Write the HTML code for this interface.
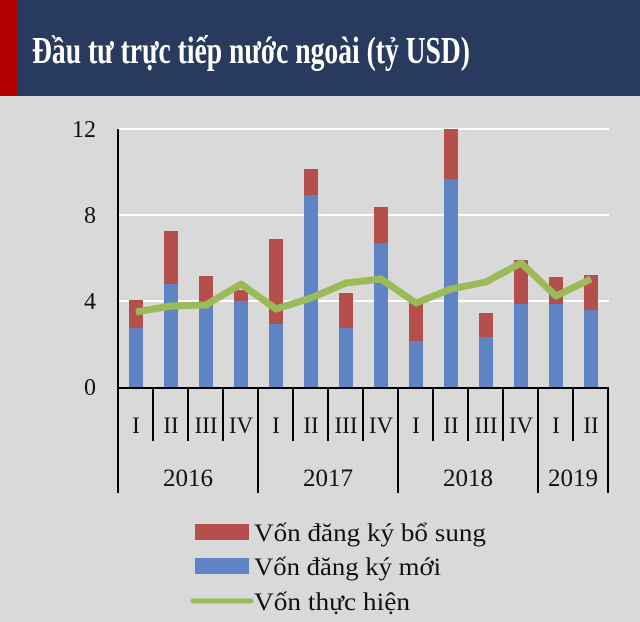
<!DOCTYPE html>
<html><head><meta charset="utf-8"><style>
html,body{margin:0;padding:0;background:#d9d9d9;}
svg{display:block}
</style></head><body>
<svg width="640" height="622" viewBox="0 0 640 622" xmlns="http://www.w3.org/2000/svg" font-family="'Liberation Serif', serif">
<rect width="640" height="622" fill="#d9d9d9"/>
<rect x="0" y="0" width="640" height="96" fill="#283a5e"/>
<rect x="0" y="0" width="17" height="96" fill="#b00000"/>
<text x="32" y="63" fill="#fff" font-size="38" font-weight="bold" textLength="438" lengthAdjust="spacingAndGlyphs">Đầu tư trực tiếp nước ngoài (tỷ USD)</text>
<g stroke="#fff" stroke-width="2">
<line x1="118" y1="129" x2="609" y2="129"/>
<line x1="118" y1="215" x2="609" y2="215"/>
<line x1="118" y1="301" x2="609" y2="301"/>
</g>
<g font-size="24" fill="#111" text-anchor="end">
<text x="96" y="137">12</text>
<text x="96" y="223">8</text>
<text x="96" y="309">4</text>
<text x="96" y="395">0</text>
</g>
<g>
<rect x="129" y="300" width="14" height="28" fill="#b54f4c"/><rect x="129" y="328" width="14" height="59" fill="#5f84c4"/>
<rect x="164" y="231" width="14" height="53" fill="#b54f4c"/><rect x="164" y="284" width="14" height="103" fill="#5f84c4"/>
<rect x="199" y="276" width="14" height="30" fill="#b54f4c"/><rect x="199" y="306" width="14" height="81" fill="#5f84c4"/>
<rect x="234" y="290" width="14" height="11" fill="#b54f4c"/><rect x="234" y="301" width="14" height="86" fill="#5f84c4"/>
<rect x="269" y="239" width="14" height="85" fill="#b54f4c"/><rect x="269" y="324" width="14" height="63" fill="#5f84c4"/>
<rect x="304" y="169" width="14" height="26" fill="#b54f4c"/><rect x="304" y="195" width="14" height="192" fill="#5f84c4"/>
<rect x="339" y="293" width="14" height="35" fill="#b54f4c"/><rect x="339" y="328" width="14" height="59" fill="#5f84c4"/>
<rect x="374" y="207" width="14" height="36" fill="#b54f4c"/><rect x="374" y="243" width="14" height="144" fill="#5f84c4"/>
<rect x="409" y="302" width="14" height="39" fill="#b54f4c"/><rect x="409" y="341" width="14" height="46" fill="#5f84c4"/>
<rect x="444" y="129" width="14" height="50" fill="#b54f4c"/><rect x="444" y="179" width="14" height="208" fill="#5f84c4"/>
<rect x="479" y="313" width="14" height="24" fill="#b54f4c"/><rect x="479" y="337" width="14" height="50" fill="#5f84c4"/>
<rect x="514" y="260" width="14" height="44" fill="#b54f4c"/><rect x="514" y="304" width="14" height="83" fill="#5f84c4"/>
<rect x="549" y="277" width="14" height="27" fill="#b54f4c"/><rect x="549" y="304" width="14" height="83" fill="#5f84c4"/>
<rect x="584" y="275" width="14" height="35" fill="#b54f4c"/><rect x="584" y="310" width="14" height="77" fill="#5f84c4"/>
</g>
<polyline points="136,312 171,306 206,305 241,284 276,309 311,298 346,283 381,279 416,303 451,289 486,282 521,263 556,296 591,279" fill="none" stroke="#9bbb59" stroke-width="7" stroke-linejoin="round"/>
<g stroke="#000" stroke-width="2">
<line x1="118" y1="129" x2="118" y2="388"/>
<line x1="117" y1="388" x2="609" y2="388"/>
<line x1="118" y1="388" x2="118" y2="493"/>
<line x1="153" y1="388" x2="153" y2="441"/>
<line x1="188" y1="388" x2="188" y2="441"/>
<line x1="223" y1="388" x2="223" y2="441"/>
<line x1="258" y1="388" x2="258" y2="493"/>
<line x1="293" y1="388" x2="293" y2="441"/>
<line x1="328" y1="388" x2="328" y2="441"/>
<line x1="363" y1="388" x2="363" y2="441"/>
<line x1="398" y1="388" x2="398" y2="493"/>
<line x1="433" y1="388" x2="433" y2="441"/>
<line x1="468" y1="388" x2="468" y2="441"/>
<line x1="503" y1="388" x2="503" y2="441"/>
<line x1="538" y1="388" x2="538" y2="493"/>
<line x1="573" y1="388" x2="573" y2="441"/>
<line x1="608" y1="388" x2="608" y2="493"/>
</g>
<g font-size="23" fill="#111" text-anchor="middle">
<text x="136" y="433">I</text><text x="171" y="433">II</text><text x="206" y="433">III</text><text x="241" y="433">IV</text>
<text x="276" y="433">I</text><text x="311" y="433">II</text><text x="346" y="433">III</text><text x="381" y="433">IV</text>
<text x="416" y="433">I</text><text x="451" y="433">II</text><text x="486" y="433">III</text><text x="521" y="433">IV</text>
<text x="556" y="433">I</text><text x="591" y="433">II</text>
</g>
<g font-size="25" fill="#111" text-anchor="middle">
<text x="188" y="486">2016</text><text x="328" y="486">2017</text><text x="468" y="486">2018</text><text x="573" y="486">2019</text>
</g>
<rect x="195" y="524" width="54" height="16" fill="#b54f4c"/>
<rect x="195" y="558" width="54" height="16" fill="#5f84c4"/>
<line x1="193" y1="601" x2="251" y2="601" stroke="#9bbb59" stroke-width="5" stroke-linecap="round"/>
<g font-size="25" fill="#111">
<text x="254" y="541" textLength="232" lengthAdjust="spacingAndGlyphs">Vốn đăng ký bổ sung</text>
<text x="254" y="575" textLength="187" lengthAdjust="spacingAndGlyphs">Vốn đăng ký mới</text>
<text x="254" y="610" textLength="156" lengthAdjust="spacingAndGlyphs">Vốn thực hiện</text>
</g>
</svg>
</body></html>
